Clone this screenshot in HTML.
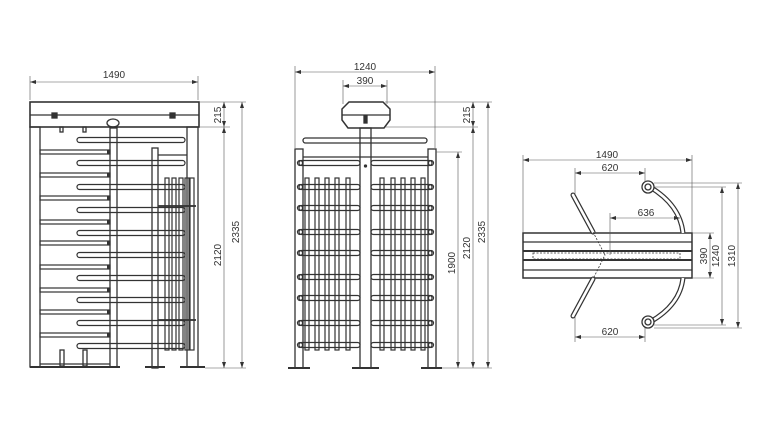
<!DOCTYPE html>
<html><head><meta charset="utf-8"><style>
html,body{margin:0;padding:0;background:#fff;width:768px;height:432px;overflow:hidden}
svg{display:block}
text{font-family:"Liberation Sans",sans-serif;font-size:10px;fill:#333}
</style></head><body>
<svg id="s" width="768" height="432" viewBox="0 0 768 432" xmlns="http://www.w3.org/2000/svg" fill="none" stroke="#333" stroke-width="1">
<defs><marker id="a" markerWidth="6" markerHeight="6" refX="6" refY="3" orient="auto-start-reverse" markerUnits="userSpaceOnUse"><path d="M0,1 L6,3 L0,5 Z" fill="#333" stroke="none"/></marker></defs>
<g id="g1" stroke-width="1.3">
<!-- LEFT VIEW -->
<rect x="30" y="102" width="169" height="25" stroke-width="1.6"/>
<line x1="30" y1="115" x2="199" y2="115"/>
<rect x="52" y="113" width="5" height="5" fill="#333"/><rect x="170" y="113" width="5" height="5" fill="#333"/>
<rect x="30" y="127" width="10" height="240"/><rect x="187" y="127" width="11" height="240"/>
<rect x="110" y="128" width="7" height="239"/>
<ellipse cx="113" cy="123" rx="6" ry="4"/>
<rect x="60" y="127" width="3" height="5"/><rect x="83" y="127" width="3" height="5"/>
<rect x="152" y="148" width="6" height="220"/>
<rect x="60" y="350" width="4" height="16"/><rect x="83" y="350" width="4" height="16"/>
<line x1="40" y1="364" x2="110" y2="364"/>
<line x1="145" y1="367" x2="165" y2="367" stroke-width="2"/>
<line x1="180" y1="367" x2="205" y2="367" stroke-width="2"/>
<line x1="30" y1="367" x2="120" y2="367" stroke-width="2"/>
<line x1="158" y1="155" x2="187" y2="155"/>
<line x1="158" y1="206" x2="195" y2="206"/><line x1="158" y1="320" x2="195" y2="320"/>
<!-- MIDDLE VIEW -->
<path d="M349,102 L383,102 L390,109 L390,120 L384,128 L348,128 L342,120 L342,109 Z" stroke-width="1.5"/>
<line x1="342" y1="115" x2="390" y2="115"/>
<rect x="364" y="116" width="3" height="7" fill="#333"/>
<rect x="360" y="128" width="11" height="240"/>
<rect x="303" y="138" width="124" height="5" rx="2.5"/>
<rect x="295" y="149" width="8" height="219"/><rect x="428" y="149" width="8" height="219"/>
<line x1="303" y1="157" x2="428" y2="157"/>
<circle cx="365.5" cy="166" r="1" fill="#333"/>
<line x1="288" y1="368" x2="310" y2="368" stroke-width="2"/>
<line x1="352" y1="368" x2="379" y2="368" stroke-width="2"/>
<line x1="421" y1="368" x2="442" y2="368" stroke-width="2"/>
<!-- TOP VIEW -->
<rect x="523" y="233" width="169" height="45" stroke-width="1.5"/>
<line x1="523" y1="242" x2="692" y2="242"/>
<line x1="523" y1="251" x2="692" y2="251" stroke-width="2"/>
<line x1="523" y1="260" x2="692" y2="260" stroke-width="2"/>
<line x1="523" y1="270" x2="692" y2="270"/>
<rect x="533" y="253" width="147" height="6" stroke-dasharray="2,1.5" stroke-width="0.8"/>
<line x1="573" y1="195" x2="593" y2="232" stroke-width="5" stroke-linecap="round"/>
<line x1="573" y1="195" x2="593" y2="232" stroke-width="2.6" stroke="#fff" stroke-linecap="round"/>
<line x1="573" y1="316" x2="593" y2="279" stroke-width="5" stroke-linecap="round"/>
<line x1="573" y1="316" x2="593" y2="279" stroke-width="2.6" stroke="#fff" stroke-linecap="round"/>
<path d="M593,232 L605,255 L593,279" stroke-dasharray="2,1.5" stroke-width="0.8"/>
<path d="M650,187 Q680,205 683,233" stroke-width="5"/><path d="M650,187 Q680,205 683,233" stroke-width="2.6" stroke="#fff"/>
<path d="M650,322 Q680,305 683,278" stroke-width="5"/><path d="M650,322 Q680,305 683,278" stroke-width="2.6" stroke="#fff"/>
<circle cx="648" cy="187" r="6" fill="#fff"/><circle cx="648" cy="187" r="3"/>
<circle cx="648" cy="322" r="6" fill="#fff"/><circle cx="648" cy="322" r="3"/>
</g>
<g id="dims" stroke-width="0.6" stroke="#555">
<!-- left -->
<line x1="30" y1="82" x2="198" y2="82" marker-start="url(#a)" marker-end="url(#a)"/>
<line x1="30" y1="76" x2="30" y2="100"/><line x1="198" y1="76" x2="198" y2="100"/>
<line x1="199" y1="102" x2="246" y2="102"/><line x1="199" y1="127" x2="230" y2="127"/><line x1="205" y1="368" x2="246" y2="368"/>
<line x1="224" y1="102" x2="224" y2="127" marker-start="url(#a)" marker-end="url(#a)"/>
<line x1="224" y1="127" x2="224" y2="368" marker-start="url(#a)" marker-end="url(#a)"/>
<line x1="242" y1="102" x2="242" y2="368" marker-start="url(#a)" marker-end="url(#a)"/>
<!-- middle -->
<line x1="295" y1="72" x2="435" y2="72" marker-start="url(#a)" marker-end="url(#a)"/>
<line x1="295" y1="66" x2="295" y2="148"/><line x1="435" y1="66" x2="435" y2="148"/>
<line x1="343" y1="86" x2="387" y2="86" marker-start="url(#a)" marker-end="url(#a)"/>
<line x1="343" y1="80" x2="343" y2="104"/><line x1="387" y1="80" x2="387" y2="104"/>
<line x1="385" y1="102" x2="492" y2="102"/><line x1="385" y1="127" x2="478" y2="127"/>
<line x1="436" y1="152" x2="462" y2="152"/><line x1="442" y1="368" x2="492" y2="368"/>
<line x1="473" y1="102" x2="473" y2="127" marker-start="url(#a)" marker-end="url(#a)"/>
<line x1="473" y1="127" x2="473" y2="368" marker-start="url(#a)" marker-end="url(#a)"/>
<line x1="488" y1="102" x2="488" y2="368" marker-start="url(#a)" marker-end="url(#a)"/>
<line x1="458" y1="152" x2="458" y2="368" marker-start="url(#a)" marker-end="url(#a)"/>
<!-- top -->
<line x1="523" y1="160" x2="692" y2="160" marker-start="url(#a)" marker-end="url(#a)"/>
<line x1="523" y1="155" x2="523" y2="233"/><line x1="692" y1="155" x2="692" y2="233"/>
<line x1="575" y1="173" x2="645" y2="173" marker-start="url(#a)" marker-end="url(#a)"/>
<line x1="575" y1="168" x2="575" y2="195"/><line x1="645" y1="168" x2="645" y2="182"/>
<line x1="610" y1="218" x2="680" y2="218" marker-start="url(#a)" marker-end="url(#a)"/>
<line x1="610" y1="213" x2="610" y2="255"/>
<line x1="575" y1="337" x2="645" y2="337" marker-start="url(#a)" marker-end="url(#a)"/>
<line x1="575" y1="316" x2="575" y2="342"/><line x1="645" y1="328" x2="645" y2="342"/>
<line x1="692" y1="233" x2="714" y2="233"/><line x1="692" y1="278" x2="714" y2="278"/>
<line x1="654" y1="187" x2="726" y2="187"/><line x1="654" y1="325" x2="726" y2="325"/>
<line x1="654" y1="183" x2="742" y2="183"/><line x1="654" y1="328" x2="742" y2="328"/>
<line x1="710" y1="233" x2="710" y2="278" marker-start="url(#a)" marker-end="url(#a)"/>
<line x1="722" y1="187" x2="722" y2="325" marker-start="url(#a)" marker-end="url(#a)"/>
<line x1="738" y1="183" x2="738" y2="328" marker-start="url(#a)" marker-end="url(#a)"/>
</g>
<g stroke="none">
<text x="114" y="78" text-anchor="middle">1490</text>
<text transform="translate(221,115) rotate(-90)" text-anchor="middle">215</text>
<text transform="translate(221,255) rotate(-90)" text-anchor="middle">2120</text>
<text transform="translate(239,232) rotate(-90)" text-anchor="middle">2335</text>
<text x="365" y="70" text-anchor="middle">1240</text>
<text x="365" y="84" text-anchor="middle">390</text>
<text transform="translate(470,115) rotate(-90)" text-anchor="middle">215</text>
<text transform="translate(470,248) rotate(-90)" text-anchor="middle">2120</text>
<text transform="translate(485,232) rotate(-90)" text-anchor="middle">2335</text>
<text transform="translate(455,263) rotate(-90)" text-anchor="middle">1900</text>
<text x="607" y="158" text-anchor="middle">1490</text>
<text x="610" y="171" text-anchor="middle">620</text>
<text x="646" y="216" text-anchor="middle">636</text>
<text x="610" y="335" text-anchor="middle">620</text>
<text transform="translate(707,256) rotate(-90)" text-anchor="middle">390</text>
<text transform="translate(719,256) rotate(-90)" text-anchor="middle">1240</text>
<text transform="translate(735,256) rotate(-90)" text-anchor="middle">1310</text>
</g>
</svg>
<script>
var s=document.getElementById('s'),NS='http://www.w3.org/2000/svg';
function el(t,a){var e=document.createElementNS(NS,t);for(var k in a)e.setAttribute(k,a[k]);s.appendChild(e);return e;}
var W='1.2';
// left view arms
[140,163,187,210,233,255,278,300,323,346].forEach(function(y){
 el('rect',{x:77,y:y-2.5,width:108,height:5,rx:2.5,'stroke-width':W});
});
[152,175,198,222,243,267,290,312,335].forEach(function(y){
 el('rect',{x:40,y:y-2,width:70,height:4,'stroke-width':W});
 el('rect',{x:107,y:y-2,width:3,height:4,fill:'#333',stroke:'none'});
});
[165,172,179,185,190].forEach(function(x){el('rect',{x:x,y:178,width:4,height:172,'stroke-width':W});});
el('line',{x1:158,y1:206,x2:196,y2:206,'stroke-width':1.8});el('line',{x1:158,y1:320,x2:196,y2:320,'stroke-width':1.8});
// middle view
[163,187,208,232,253,277,298,323,345].forEach(function(y){
 el('rect',{x:299,y:y-2.5,width:61,height:5,rx:2.5,'stroke-width':W});
 el('rect',{x:371,y:y-2.5,width:61,height:5,rx:2.5,'stroke-width':W});
 el('circle',{cx:300,cy:y,r:2.5,'stroke-width':W});el('circle',{cx:431,cy:y,r:2.5,'stroke-width':W});
});
[307,317,327,337,348,382,393,403,413,423].forEach(function(x){
 el('rect',{x:x-2,y:178,width:4,height:172,'stroke-width':W});
});
</script>
</body></html>
